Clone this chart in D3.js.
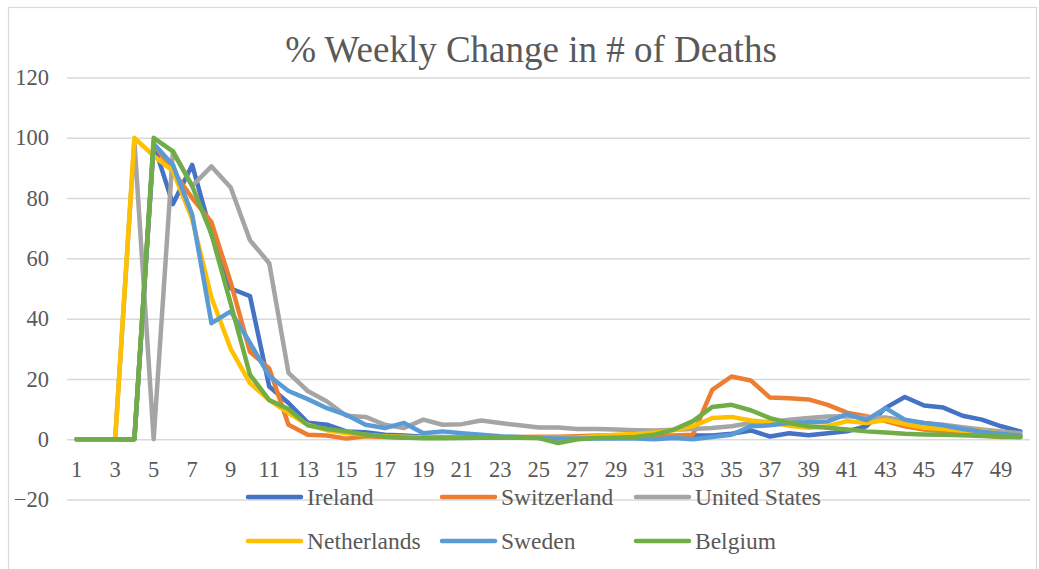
<!DOCTYPE html>
<html>
<head>
<meta charset="utf-8">
<script src="https://cdn.jsdelivr.net/npm/d3@7"></script>
</head>
<body style="margin:0">
<svg id="chart" width="1039" height="569"></svg>
<script>
// weeks 1..50
const weeks = d3.range(1, 51);
const weekLabels = weeks.filter(w => w % 2 === 1);
const yTicks = [-20, 0, 20, 40, 60, 80, 100, 120];

const countries = ["Ireland", "Switzerland", "United States", "Netherlands", "Sweden", "Belgium"];
const colors = ["#4472C4", "#ED7D31", "#A5A5A5", "#FFC000", "#5B9BD5", "#70AD47"];

const ireland = [0, 0, 0, 0, 98, 78, 91, 68, 50, 47.5,
  17.5, 12, 5.5, 4.8, 2.6, 2.3, 1.5, 1.2, 0.8, 0.7,
  0.6, 0.5, 0.5, 0.5, 0.5, 0.3, 0.5, 0.5, 0.5, 0.6,
  0.8, 1, 1.2, 1.2, 1.8, 2.9, 0.9, 2, 1.3, 2,
  2.6, 4.3, 10.4, 14, 11.2, 10.5, 7.8, 6.5, 4.3, 2.6];
const switzerland = [0, 0, 0, 0, 98, 89, 80, 72, 52, 29,
  23.5, 4.8, 1.5, 1.2, 0.2, 1, 0.7, 0.5, 0.5, 0.5,
  0.5, 0.5, 0.6, 0.7, 0.8, 0.8, 1, 1.2, 1.2, 1.3,
  1.3, 1.2, 1.5, 16.4, 20.8, 19.5, 13.8, 13.6, 13.2, 11.4,
  8.8, 7.6, 6, 4.3, 3.2, 2.6, 1.8, 1.2, 0.7, 0.7];
const unitedStates = [0, 0, 0, 99, 0, 95.5, 84, 90.5, 83.5, 66,
  58.4, 22, 16, 12.5, 7.8, 7.4, 4.8, 3.7, 6.5, 4.8,
  5, 6.2, 5.4, 4.6, 3.9, 3.9, 3.4, 3.4, 3.2, 3,
  2.9, 3.1, 3.4, 3.7, 4.3, 5.4, 5.6, 6.5, 7, 7.5,
  7.6, 7.2, 7.2, 6.2, 5.4, 4.8, 4, 3.2, 2.6, 2];
const netherlands = [0, 0, 0, 100, 94, 89, 73, 47, 30, 18.6,
  13, 8.7, 4.8, 3, 2, 1.5, 1, 0.8, 0.6, 0.5,
  0.5, 0.5, 0.5, 0.5, 0.5, 0.5, 0.6, 1, 1.5, 1.7,
  2.2, 3, 4.3, 7, 7.4, 6.2, 5.6, 4.5, 3.8, 4.3,
  6, 5.4, 6.4, 5, 3.8, 3.4, 2.8, 2.8, 1.8, 1.2];
const sweden = [0, 0, 0, 0, 98, 91, 74.5, 38.5, 42.4, 32,
  21, 16, 13.3, 10.3, 8.1, 4.8, 3.7, 5.4, 2, 2.6,
  2, 1.5, 1, 0.7, 0.4, 0.2, 0.2, 0.2, 0.2, 0.2,
  0, 0.4, 0, 0.7, 1.5, 4.3, 4.6, 5.4, 5.6, 5.9,
  8.3, 6.3, 10.3, 6.5, 5.4, 4.6, 3.4, 2.5, 1.8, 1.2];
const belgium = [0, 0, 0, 0, 100, 95.5, 84, 68, 45, 21.4,
  13, 10, 4.6, 3.4, 2.6, 1.5, 0.8, 0.6, 0.3, 0.3,
  0.4, 0.5, 0.5, 0.5, 0.4, -1.3, 0, 0.4, 0.5, 0.7,
  1.5, 3.2, 6, 10.7, 11.4, 9.6, 7, 5.4, 4.3, 3.8,
  3.2, 2.6, 2.2, 1.8, 1.6, 1.5, 1.3, 1.1, 0.9, 0.7];

const seriesValues = [ireland, switzerland, unitedStates, netherlands, sweden, belgium];

const plot = { left: 67, right: 1030, top: 77.5, bottom: 499.5 };
const textColor = "#595959";
const gridColor = "#d9d9d9";
const fontName = "Liberation Serif";

const svg = d3.select("#chart");

// chart frame
svg.append("rect")
  .attr("x", 8.5).attr("y", 7.5)
  .attr("width", 1028).attr("height", 620)
  .attr("fill", "none")
  .attr("stroke", gridColor)
  .attr("stroke-width", 1.2);

const x = d3.scaleBand().domain(weeks).range([plot.left, plot.right]);
const y = d3.scaleLinear().domain([-20, 120]).range([plot.bottom, plot.top]);
const xMid = d => x(d) + x.bandwidth() / 2;

// title
svg.append("text")
  .attr("x", 531).attr("y", 62)
  .attr("text-anchor", "middle")
  .attr("fill", textColor)
  .attr("font-family", fontName)
  .style("font-family", fontName)
  .style("font-size", "37px")
  .text("% Weekly Change in # of Deaths");

// y axis + gridlines
const yAxis = svg.append("g")
  .attr("transform", `translate(${plot.left},0)`)
  .call(d3.axisLeft(y).tickValues(yTicks)
    .tickSizeInner(-(plot.right - plot.left)).tickSizeOuter(0).tickPadding(18));
yAxis.select(".domain").remove();
yAxis.selectAll("line").attr("stroke", gridColor).attr("stroke-width", 1.5);
yAxis.selectAll("text")
  .attr("fill", textColor)
  .attr("font-family", fontName)
  .style("font-family", fontName)
  .style("font-size", "22.5px");

// x axis labels sit under the 0 line
const xAxis = svg.append("g")
  .attr("transform", `translate(0,${y(0)})`)
  .call(d3.axisBottom(x).tickValues(weekLabels).tickSize(0).tickPadding(22));
xAxis.select(".domain").remove();
xAxis.selectAll("text")
  .attr("fill", textColor)
  .attr("font-family", fontName)
  .style("font-family", fontName)
  .style("font-size", "22.5px");

// lines
const line = d3.line()
  .x((d, i) => xMid(weeks[i]))
  .y(d => y(d));

svg.append("g").selectAll("path")
  .data(seriesValues)
  .join("path")
  .attr("d", d => line(d))
  .attr("fill", "none")
  .attr("stroke", (d, i) => colors[i])
  .attr("stroke-width", 4.5)
  .attr("stroke-linejoin", "round")
  .attr("stroke-linecap", "round");

// legend, 3 per row
const legend = svg.append("g").selectAll("g")
  .data(countries)
  .join("g")
  .attr("transform", (d, i) => `translate(${248 + (i % 3) * 194},${497 + Math.floor(i / 3) * 44})`);

legend.append("line")
  .attr("x1", 0).attr("x2", 53)
  .attr("stroke", (d, i) => colors[i])
  .attr("stroke-width", 4.5)
  .attr("stroke-linecap", "round");

legend.append("text")
  .attr("x", 59)
  .attr("dy", "0.33em")
  .attr("fill", textColor)
  .attr("font-family", fontName)
  .style("font-family", fontName)
  .style("font-size", "23.5px")
  .text(d => d);
</script>
</body>
</html>
